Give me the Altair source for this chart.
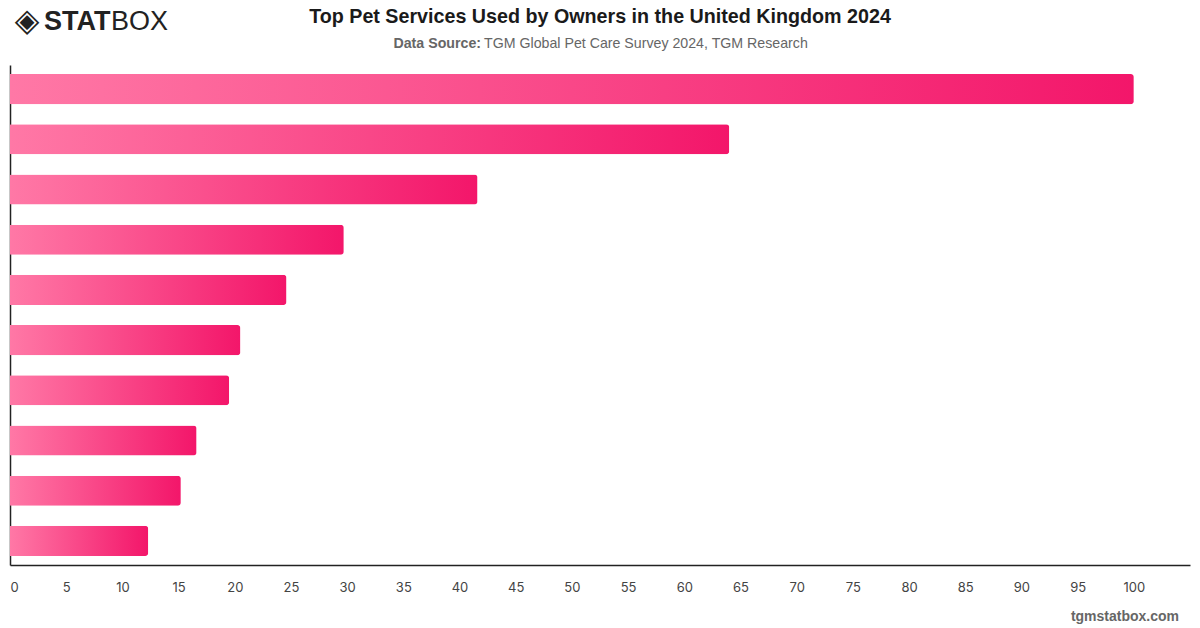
import altair as alt
import pandas as pd

# Share of owners using each pet service (%), ranked from most to least used
ranks = ["1", "2", "3", "4", "5", "6", "7", "8", "9", "10"]
shares = [100, 64.0, 41.6, 29.7, 24.6, 20.5, 19.5, 16.6, 15.2, 12.3]
tick_values = list(range(0, 101, 5))

title_text = "Top Pet Services Used by Owners in the United Kingdom 2024"
source_label = "Data Source:"
source_text = "TGM Global Pet Care Survey 2024, TGM Research"
site_text = "tgmstatbox.com"

df = pd.DataFrame({"rank": ranks, "share": shares})
one = pd.DataFrame({"k": [0]})

W, H = 1180, 500

bar_fill = alt.LinearGradient(
    gradient="linear", x1=0, x2=1, y1=0, y2=0,
    stops=[alt.GradientStop(offset=0, color="#ff78a6"),
           alt.GradientStop(offset=1, color="#f3166a")],
)

bars = alt.Chart(df).mark_bar(color=bar_fill, cornerRadiusEnd=3).encode(
    x=alt.X("share:Q", scale=alt.Scale(domain=[0, 105], nice=False),
            axis=alt.Axis(values=tick_values, title=None, ticks=False, grid=False,
                          domainColor="#222222", domainWidth=1.5,
                          labelFont="Inter", labelFontSize=13, labelColor="#444444",
                          labelPadding=16, labelFlush=True)),
    y=alt.Y("rank:N", sort=ranks,
            scale=alt.Scale(paddingInner=0.4, paddingOuter=0.18),
            axis=alt.Axis(title=None, labels=False, ticks=False, grid=False,
                          domainColor="#222222", domainWidth=1.5)),
)

def txt(text, x, y, size, weight="normal", color="#222222", align="center",
        font="Liberation Sans"):
    return alt.Chart(one).mark_text(
        text=text, fontSize=size, fontWeight=weight, color=color, align=align,
        baseline="middle", font=font,
    ).encode(x=alt.value(x), y=alt.value(y))

title = txt(title_text, 590, -48, 19.7, "bold", "#1a1a1a")
src_b = txt(source_label, 471, -21, 14.2, "bold", "#666666", "right")
src_r = txt(source_text, 474, -21, 14.2, "normal", "#666666", "left")
site = txt(site_text, 1169, 552, 14, "bold", "#666666", "right")

# brand mark in the top-left corner
logo_icon = txt("◈", 17, -44, 32, "normal", "#222222", "center", "DejaVu Sans")
logo_stat = txt("STAT", 34, -43, 27, 900, "#222222", "left", "Liberation Sans")
logo_box = txt("BOX", 101, -43, 27, "normal", "#222222", "left", "Liberation Sans")

chart = alt.layer(bars, title, src_b, src_r, site, logo_icon, logo_stat, logo_box).properties(
    width=W, height=H,
    autosize=alt.AutoSizeParams(type="none"),
    padding={"left": 10, "top": 65, "right": 10, "bottom": 63},
    background="white",
).configure_view(stroke=None)

chart.save("out.html", embed_options={"renderer": "svg", "actions": False})
